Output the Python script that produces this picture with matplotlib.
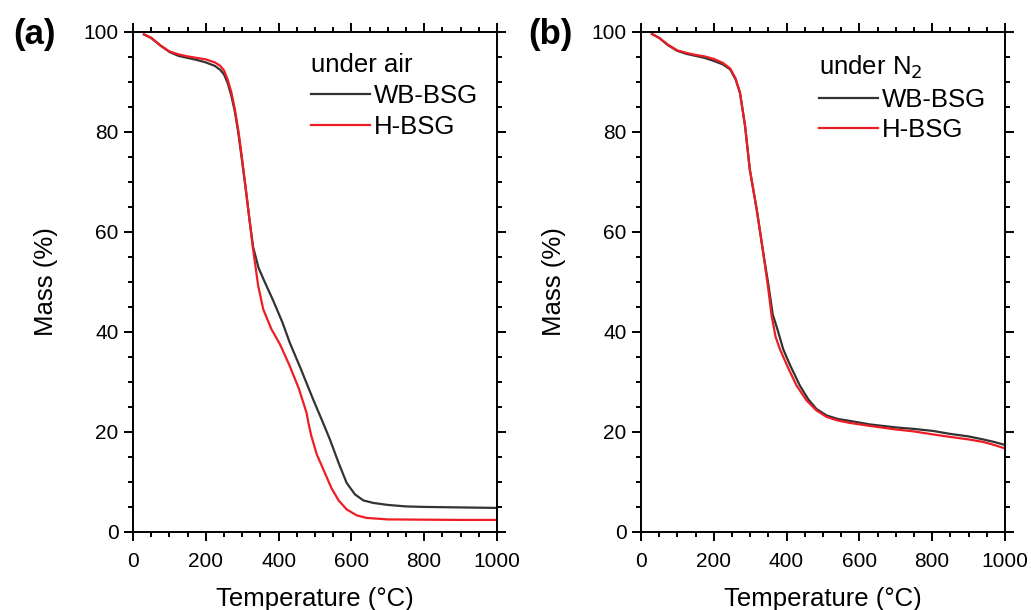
import matplotlib
matplotlib.use("Agg")
import matplotlib.pyplot as plt
from matplotlib.ticker import MultipleLocator

plt.rcParams['font.family'] = ['Liberation Sans', 'DejaVu Sans']

# (a) under air
air_wb_t = [30, 50, 75, 100, 125, 150, 175, 200, 225, 240, 250, 260, 270, 280, 290, 300, 310, 320, 330, 345,
            360, 385, 410, 431, 460, 495, 520, 541, 565, 587, 610, 633, 660, 700, 750, 800, 900, 1000]
air_wb_m = [99.5, 98.8, 97.3, 96.0, 95.2, 94.8, 94.4, 93.9, 93.2, 92.4, 91.5, 89.8, 87.3, 84.0, 79.5, 74.0, 68.5,
            62.5, 57.0, 52.8, 50.3, 46.3, 42.0, 37.8, 32.8, 26.5, 22.2, 18.5, 13.8, 9.8, 7.5, 6.3, 5.8, 5.4, 5.1,
            5.0, 4.9, 4.8]
air_h_t = [30, 50, 75, 100, 125, 150, 175, 200, 225, 240, 250, 260, 270, 280, 290, 300, 310, 320, 330, 344, 358,
           380, 404, 430, 455, 477, 482, 490, 505, 523, 545, 565, 587, 615, 642, 700, 800, 900, 1000]
air_h_m = [99.5, 98.8, 97.3, 96.1, 95.5, 95.1, 94.8, 94.5, 93.9, 93.2, 92.3, 90.5, 88.0, 84.5, 80.0, 74.5, 68.5,
           62.5, 56.5, 49.2, 44.5, 40.6, 37.5, 33.3, 28.8, 23.8, 21.8, 19.2, 15.5, 12.5, 8.8, 6.3, 4.5, 3.3, 2.8,
           2.5, 2.45, 2.4, 2.4]

# (b) under N2
n2_wb_t = [30, 50, 75, 100, 125, 150, 175, 200, 225, 245, 260, 272, 286, 299, 318, 336, 350, 362, 375, 391, 410,
           437, 460, 482, 510, 540, 574, 629, 700, 750, 802, 850, 900, 940, 970, 1000]
n2_wb_m = [99.6, 98.8, 97.3, 96.2, 95.6, 95.2, 94.8, 94.2, 93.5, 92.5, 90.5, 87.8, 81.2, 72.5, 64.5, 55.8, 49.5,
           43.5, 40.5, 36.5, 33.3, 29.2, 26.5, 24.6, 23.3, 22.6, 22.2, 21.5, 20.9, 20.6, 20.2, 19.6, 19.1, 18.5,
           18.0, 17.4]
n2_h_t = [30, 50, 75, 100, 125, 150, 175, 200, 225, 245, 260, 272, 286, 299, 318, 336, 350, 359, 370, 382, 405,
          428, 455, 482, 510, 540, 574, 629, 700, 750, 802, 850, 900, 940, 970, 1000]
n2_h_m = [99.6, 98.8, 97.4, 96.3, 95.8, 95.4, 95.1, 94.6, 93.8, 92.7, 90.7, 87.9, 81.2, 72.5, 64.5, 55.8, 48.5,
          43.2, 39.0, 36.5, 32.7, 29.2, 26.3, 24.3, 23.0, 22.3, 21.8, 21.2, 20.5, 20.1, 19.5, 19.0, 18.5, 18.0,
          17.4, 16.7]

black = '#333333'
red = '#ee1c24'

fig = plt.figure(figsize=(10.31, 6.10), dpi=100)
ax_a = fig.add_axes([0.129, 0.128, 0.353, 0.8197])
ax_b = fig.add_axes([0.6217, 0.128, 0.353, 0.8197])

panels = [
    (ax_a, air_wb_t, air_wb_m, air_h_t, air_h_m, 'under air', '(a)', 0.013),
    (ax_b, n2_wb_t, n2_wb_m, n2_h_t, n2_h_m, 'under N$_2$', '(b)', 0.512),
]

for ax, t1, m1, t2, m2, title, tag, tag_x in panels:
    ax.plot(t1, m1, color=black, lw=1.6, label='WB-BSG')
    ax.plot(t2, m2, color=red, lw=1.6, label='H-BSG')
    ax.set_xlim(0, 1000)
    ax.set_ylim(0, 100)
    ax.xaxis.set_major_locator(MultipleLocator(200))
    ax.xaxis.set_minor_locator(MultipleLocator(50))
    ax.yaxis.set_major_locator(MultipleLocator(20))
    ax.yaxis.set_minor_locator(MultipleLocator(5))
    ax.tick_params(which='both', direction='out', top=True, right=True, width=1.4, labelsize=15)
    ax.tick_params(which='major', length=6.5)
    ax.tick_params(which='minor', length=3.5)
    ax.tick_params(axis='x', pad=8)
    ax.tick_params(axis='y', pad=4)
    for sp in ax.spines.values():
        sp.set_linewidth(1.4)
    ax.set_xlabel('Temperature (°C)', fontsize=18.5)
    ax.set_ylabel('Mass (%)', fontsize=18.5)
    ax.xaxis.set_label_coords(0.5, -0.11)
    ax.yaxis.set_label_coords(-0.205, 0.5)
    leg = ax.legend(title=title, loc='upper left', bbox_to_anchor=(0.49, 0.957), frameon=False,
                    fontsize=18.5, title_fontsize=18.5, handlelength=2.3, handletextpad=0.15,
                    labelspacing=0.26, borderpad=0, borderaxespad=0, alignment='left')
    fig.text(tag_x, 0.943, tag, fontsize=25, fontweight='bold', va='center', ha='left')

fig.savefig('out.png', dpi=100)
